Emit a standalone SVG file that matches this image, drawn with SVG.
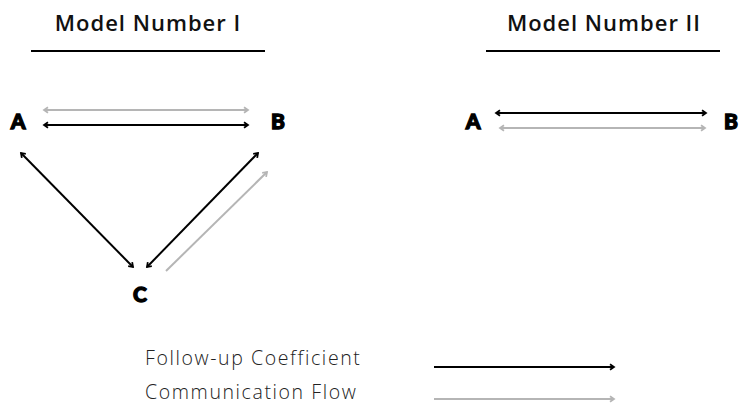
<svg xmlns="http://www.w3.org/2000/svg" width="739" height="405" viewBox="0 0 739 405">
<style>
.title{font-family:"Open Sans","Lato",sans-serif;font-size:22px;font-weight:600;fill:#111;text-anchor:middle;letter-spacing:1px}
.node{font-family:"Lato","DejaVu Sans",sans-serif;font-size:21px;font-weight:900;fill:#000;stroke:#000;stroke-width:1.3;text-anchor:middle}
.leg{font-family:"Open Sans","Lato",sans-serif;font-size:19.5px;font-weight:300;fill:#222;letter-spacing:1.6px}
.blk{stroke:#000;stroke-width:2;fill:none}
.gry{stroke:#b5b5b5;stroke-width:2;fill:none}
.rule{stroke:#000;stroke-width:2}
</style>
<defs>
<marker id="hb" viewBox="0 0 10 10" refX="8" refY="5" markerWidth="8" markerHeight="8" orient="auto-start-reverse" markerUnits="userSpaceOnUse"><path d="M3,1.5 L8,5 L3,8.5" fill="none" stroke="#000" stroke-width="2.2"/></marker>
<marker id="hg" viewBox="0 0 10 10" refX="8" refY="5" markerWidth="8" markerHeight="8" orient="auto-start-reverse" markerUnits="userSpaceOnUse"><path d="M3,1.5 L8,5 L3,8.5" fill="none" stroke="#b5b5b5" stroke-width="2.2"/></marker>
</defs>
<g id="titles">
<text class="title" x="148" y="31">Model Number I</text>
<line class="rule" x1="31" y1="51" x2="265" y2="51"/>
<text class="title" x="604" y="31">Model Number II</text>
<line class="rule" x1="486" y1="51" x2="720" y2="51"/>
</g>
<g id="node-A1"><text class="node" x="18" y="129">A</text></g>
<g id="node-B1"><text class="node" x="278" y="129">B</text></g>
<g id="node-C1"><text class="node" x="140" y="302">C</text></g>
<g id="node-A2"><text class="node" x="473" y="129">A</text></g>
<g id="node-B2"><text class="node" x="731" y="129">B</text></g>
<g id="connectors">
<line class="gry" x1="44" y1="110" x2="248" y2="110" marker-start="url(#hg)" marker-end="url(#hg)"/>
<line class="blk" x1="44" y1="125" x2="248" y2="125" marker-start="url(#hb)" marker-end="url(#hb)"/>
<line class="blk" x1="21" y1="153" x2="133" y2="267" marker-start="url(#hb)" marker-end="url(#hb)"/>
<line class="blk" x1="258" y1="153" x2="147" y2="267" marker-start="url(#hb)" marker-end="url(#hb)"/>
<line class="gry" x1="166" y1="271" x2="267" y2="172" marker-end="url(#hg)"/>
<line class="blk" x1="496" y1="113" x2="706" y2="113" marker-start="url(#hb)" marker-end="url(#hb)"/>
<line class="gry" x1="500" y1="128" x2="705" y2="128" marker-start="url(#hg)" marker-end="url(#hg)"/>
</g>
<g id="legend">
<text class="leg" x="145" y="365">Follow-up Coefficient</text>
<line class="blk" x1="434" y1="367" x2="614" y2="367" marker-end="url(#hb)"/>
<text class="leg" x="145" y="399">Communication Flow</text>
<line class="gry" x1="434" y1="399" x2="614" y2="399" marker-end="url(#hg)"/>
</g>
</svg>
